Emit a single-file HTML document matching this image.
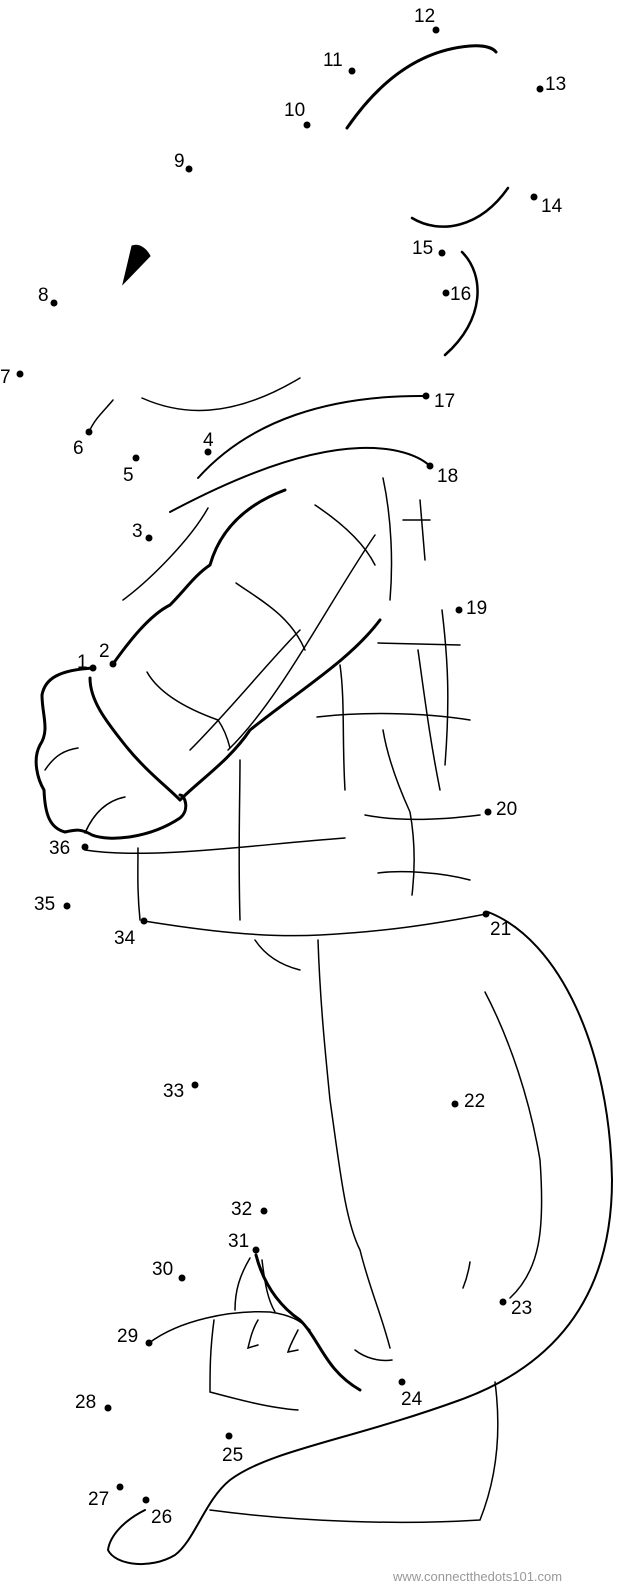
<!DOCTYPE html>
<html><head><meta charset="utf-8"><style>
html,body{margin:0;padding:0;background:#fff}
svg{display:block}
text{font-family:"Liberation Sans",sans-serif;font-size:19px;fill:#000}
</style></head><body>
<svg width="622" height="1583" viewBox="0 0 622 1583" xmlns="http://www.w3.org/2000/svg">
<g fill="none" stroke="#000" stroke-linecap="round">
<!-- head -->
<path d="M347 128 C380 80 420 50 470 46 C485 45 493 48 496 52" stroke-width="3"/>
<path d="M412 218 C440 235 480 228 508 188" stroke-width="2.5"/>
<path d="M462 252 C485 275 485 320 445 355" stroke-width="2.5"/>
<path d="M123 284 L132 246 C140 243 147 250 150 256 Z" fill="#000" stroke-width="1"/>
<path d="M142 398 C180 415 230 420 300 378" stroke-width="1.5"/>
<path d="M89 432 C95 418 105 410 113 400" stroke-width="1.5"/>
<!-- collar -->
<path d="M198 478 C250 420 330 395 426 396" stroke-width="2"/>
<path d="M170 512 C230 480 300 450 360 448 C395 447 418 455 430 466" stroke-width="2"/>
<!-- arm -->
<path d="M113 664 C130 640 150 615 170 605 C185 590 195 575 210 565 C220 530 245 505 285 490" stroke-width="3"/>
<path d="M93 668 C60 670 45 678 42 695 C42 715 50 730 40 745 C32 760 38 780 44 790 C45 815 50 828 65 832 C75 830 80 828 92 835 C110 842 150 838 180 818 C190 810 185 795 180 795" stroke-width="3"/>
<path d="M90 678 C90 700 105 720 125 745 C145 770 165 785 180 800" stroke-width="3"/>
<path d="M180 800 C200 780 230 760 250 730 C300 690 350 660 380 620" stroke-width="3"/>
<path d="M45 770 C55 755 65 750 78 748" stroke-width="1.5"/>
<path d="M85 833 C95 810 110 800 125 797" stroke-width="1.5"/>
<path d="M147 672 C160 695 190 710 218 720 C225 730 228 740 230 748" stroke-width="1.5"/>
<path d="M190 750 C230 710 270 660 300 630" stroke-width="1.5"/>
<path d="M236 583 C260 600 290 615 305 650" stroke-width="1.5"/>
<path d="M315 505 C345 525 365 545 375 565" stroke-width="1.5"/>
<path d="M228 750 C280 700 330 600 375 535" stroke-width="1.5"/>
<path d="M123 600 C150 580 190 540 208 508" stroke-width="1.5"/>
<!-- jacket body lines -->
<path d="M383 478 C392 520 393 565 390 600" stroke-width="1.5"/>
<path d="M403 520 L430 520 M420 500 L425 560" stroke-width="1.5"/>
<path d="M378 643 L460 645" stroke-width="1.5"/>
<path d="M442 610 C448 660 450 700 445 765" stroke-width="1.5"/>
<path d="M317 717 C360 712 420 712 470 720" stroke-width="1.5"/>
<path d="M340 665 C345 700 342 740 345 790" stroke-width="1.5"/>
<path d="M418 650 C425 700 430 740 440 790" stroke-width="1.5"/>
<path d="M383 730 C388 760 400 790 410 812 C415 840 415 870 412 895" stroke-width="1.5"/>
<path d="M365 815 C400 822 440 820 480 815" stroke-width="1.5"/>
<path d="M378 873 C400 870 440 872 470 880" stroke-width="1.5"/>
<path d="M240 760 C240 800 238 850 240 920" stroke-width="1.5"/>
<path d="M85 850 C150 860 250 845 345 838" stroke-width="1.5"/>
<path d="M138 848 C138 870 137 890 140 920" stroke-width="1.5"/>
<path d="M144 921 C200 930 260 938 320 935 C380 932 430 925 486 914" stroke-width="1.5"/>
<!-- leg & tail -->
<path d="M488 912 C560 940 610 1050 612 1180 C612 1280 570 1360 460 1400 C350 1440 270 1450 230 1480 C205 1500 195 1540 175 1555 C150 1570 115 1565 108 1550 C110 1535 125 1520 145 1510" stroke-width="2"/>
<path d="M255 940 C265 955 280 965 300 970" stroke-width="1.5"/>
<path d="M318 940 C320 1000 325 1050 330 1100 C340 1170 345 1220 360 1250 C370 1290 380 1310 390 1348" stroke-width="1.5"/>
<path d="M485 992 C510 1040 530 1100 540 1160 C545 1230 540 1270 510 1298" stroke-width="1.5"/>
<path d="M470 1262 C468 1275 465 1283 463 1288" stroke-width="1.5"/>
<path d="M355 1350 C365 1358 380 1362 392 1360" stroke-width="1.5"/>
<path d="M256 1255 C265 1290 285 1310 300 1320 C320 1340 325 1370 360 1390" stroke-width="3"/>
<path d="M149 1343 C180 1320 230 1310 270 1312 C290 1315 300 1320 310 1330" stroke-width="1.5"/>
<path d="M250 1258 C240 1275 235 1290 235 1310 M262 1260 C265 1285 268 1300 275 1312" stroke-width="1.5"/>
<path d="M214 1320 C210 1350 210 1370 210 1392 C240 1400 270 1408 298 1410" stroke-width="1.5"/>
<path d="M258 1320 C252 1330 250 1340 248 1348 L258 1345 M298 1330 C293 1340 290 1345 288 1352 L298 1350" stroke-width="1.5"/>
<path d="M495 1382 C500 1420 500 1470 480 1520 C400 1525 300 1522 210 1510" stroke-width="1.5"/>
</g>
<g fill="#000">
<circle cx="93" cy="668" r="3.5"/><circle cx="113" cy="664" r="3.5"/><circle cx="149" cy="538" r="3.5"/>
<circle cx="208" cy="452" r="3.5"/><circle cx="136" cy="458" r="3.5"/><circle cx="89" cy="432" r="3.5"/>
<circle cx="20" cy="374" r="3.5"/><circle cx="54" cy="303" r="3.5"/><circle cx="189" cy="169" r="3.5"/>
<circle cx="307" cy="125" r="3.5"/><circle cx="352" cy="71" r="3.5"/><circle cx="436" cy="30" r="3.5"/>
<circle cx="540" cy="89" r="3.5"/><circle cx="534" cy="197" r="3.5"/><circle cx="442" cy="253" r="3.5"/>
<circle cx="446" cy="293" r="3.5"/><circle cx="426" cy="396" r="3.5"/><circle cx="430" cy="466" r="3.5"/>
<circle cx="459" cy="610" r="3.5"/><circle cx="488" cy="812" r="3.5"/><circle cx="486" cy="914" r="3.5"/>
<circle cx="455" cy="1104" r="3.5"/><circle cx="503" cy="1302" r="3.5"/><circle cx="402" cy="1382" r="3.5"/>
<circle cx="229" cy="1436" r="3.5"/><circle cx="146" cy="1500" r="3.5"/><circle cx="120" cy="1487" r="3.5"/>
<circle cx="108" cy="1408" r="3.5"/><circle cx="149" cy="1343" r="3.5"/><circle cx="182" cy="1278" r="3.5"/>
<circle cx="256" cy="1250" r="3.5"/><circle cx="264" cy="1211" r="3.5"/><circle cx="195" cy="1085" r="3.5"/>
<circle cx="144" cy="921" r="3.5"/><circle cx="67" cy="906" r="3.5"/><circle cx="85" cy="847" r="3.5"/>
</g>
<g>
<text x="77" y="668">1</text><text x="99" y="657">2</text><text x="132" y="537">3</text>
<text x="203" y="446">4</text><text x="123" y="481">5</text><text x="73" y="454">6</text>
<text x="0" y="383">7</text><text x="38" y="301">8</text><text x="174" y="167">9</text>
<text x="284" y="116">10</text><text x="323" y="66">11</text><text x="414" y="22">12</text>
<text x="545" y="90">13</text><text x="541" y="212">14</text><text x="412" y="254">15</text>
<text x="450" y="300">16</text><text x="434" y="407">17</text><text x="437" y="482">18</text>
<text x="466" y="614">19</text><text x="496" y="815">20</text><text x="490" y="935">21</text>
<text x="464" y="1107">22</text><text x="511" y="1314">23</text><text x="401" y="1405">24</text>
<text x="222" y="1461">25</text><text x="151" y="1523">26</text><text x="88" y="1505">27</text>
<text x="75" y="1408">28</text><text x="117" y="1342">29</text><text x="152" y="1275">30</text>
<text x="228" y="1247">31</text><text x="231" y="1215">32</text><text x="163" y="1097">33</text>
<text x="114" y="944">34</text><text x="34" y="910">35</text><text x="49" y="854">36</text>
<text x="393" y="1581" style="font-size:13px;fill:#999">www.connectthedots101.com</text>
</g>
</svg>
</body></html>
